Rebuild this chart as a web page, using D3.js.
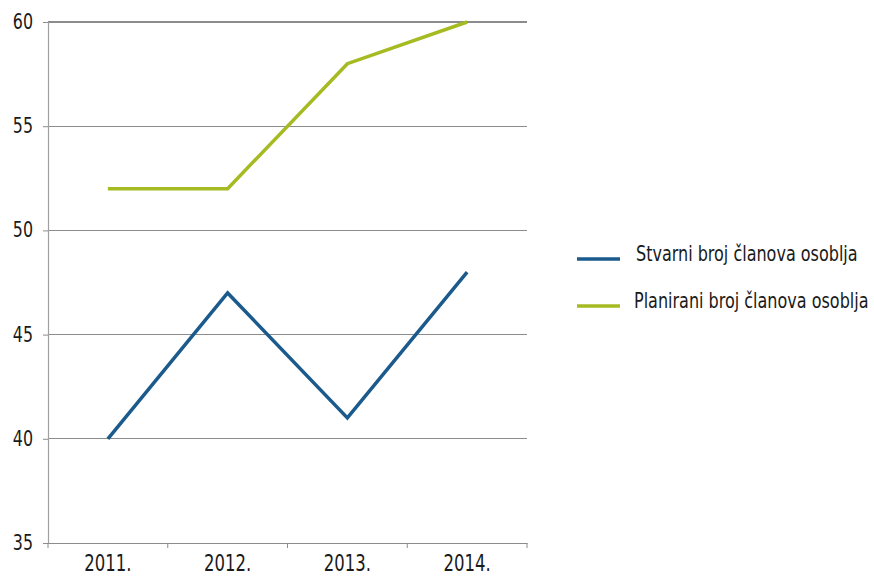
<!DOCTYPE html>
<html><head><meta charset="utf-8">
<script src="https://cdn.jsdelivr.net/npm/d3@7"></script>
<style>body{margin:0;background:#fff}svg{display:block}text{font-family:"DejaVu Sans Condensed","Liberation Sans Narrow",sans-serif;fill:#1a1a1a}</style>
</head><body><svg id="c" width="874" height="577"></svg>
<script>
const categories = ["2011.", "2012.", "2013.", "2014."];
const stvarni = [40, 47, 41, 48];
const planirani = [52, 52, 58, 60];
const yTicks = [35, 40, 45, 50, 55, 60];
const seriesNames = ["Stvarni broj članova osoblja", "Planirani broj članova osoblja"];
const colors = ["#1b5a8c", "#a6ba22"];

const svg = d3.select("#c");
const L = 48, R = 527, T = 22, B = 543;
const x = d3.scaleBand().domain(categories).range([L, R]);
const y = d3.scaleLinear().domain([35, 60]).range([B, T]);

function condense(sel, f) {
  sel.each(function() {
    const w = this.getComputedTextLength();
    d3.select(this).attr("textLength", w * f).attr("lengthAdjust", "spacingAndGlyphs");
  });
}

// gridlines
svg.append("g").selectAll("line").data(yTicks.slice(1)).join("line")
  .attr("x1", L).attr("x2", R).attr("y1", d => y(d)).attr("y2", d => y(d))
  .attr("stroke", "#8c8c8c").attr("stroke-width", 1.2).attr("shape-rendering","crispEdges");

// y axis
const ya = svg.append("g").attr("transform", `translate(${L},0)`)
  .call(d3.axisLeft(y).tickValues(yTicks).tickSize(5).tickPadding(10));
ya.attr("font-family", null);
ya.select(".domain").attr("stroke", "#a0a0a0").attr("stroke-width", 1.2);
ya.selectAll(".tick line").attr("stroke", "#8c8c8c");
ya.selectAll(".tick text").attr("font-size", 20.5).attr("fill", "#1a1a1a");
condense(ya.selectAll(".tick text"), 0.86);

// x axis
const xa = svg.append("g").attr("transform", `translate(0,${B})`)
  .call(d3.axisBottom(x).tickSize(0).tickPadding(11));
xa.attr("font-family", null);
xa.select(".domain").attr("stroke", "#8c8c8c").attr("stroke-width", 1.2);
xa.selectAll(".tick text").attr("font-size", 23.5).attr("fill", "#1a1a1a").attr("dy", "0.72em");
condense(xa.selectAll(".tick text"), 0.78);
// boundary ticks
const bounds = categories.map(c => x(c)).concat([x(categories[categories.length-1]) + x.bandwidth()]);
svg.append("g").selectAll("line").data(bounds).join("line")
  .attr("x1", d => d).attr("x2", d => d).attr("y1", B).attr("y2", B + 5)
  .attr("stroke", "#8c8c8c").attr("stroke-width", 1);

const line = d3.line().x((d, i) => x(categories[i]) + x.bandwidth() / 2).y(d => y(d));
[stvarni, planirani].forEach((s, k) => {
  svg.append("path").datum(s).attr("d", line).attr("fill", "none")
    .attr("stroke", colors[k]).attr("stroke-width", 3.5).attr("stroke-linejoin", "miter");
});

// legend
const legY = [259, 306];
const legTextX = [636, 634];
seriesNames.forEach((n, k) => {
  svg.append("line").attr("x1", 577).attr("x2", 620).attr("y1", legY[k]).attr("y2", legY[k])
    .attr("stroke", colors[k]).attr("stroke-width", 3.5);
  svg.append("text")
    .attr("transform", `translate(${legTextX[k]},${legY[k] + 1.5}) scale(0.81,1)`)
    .attr("font-size", 22)
    .text(n);
});
</script></body></html>
